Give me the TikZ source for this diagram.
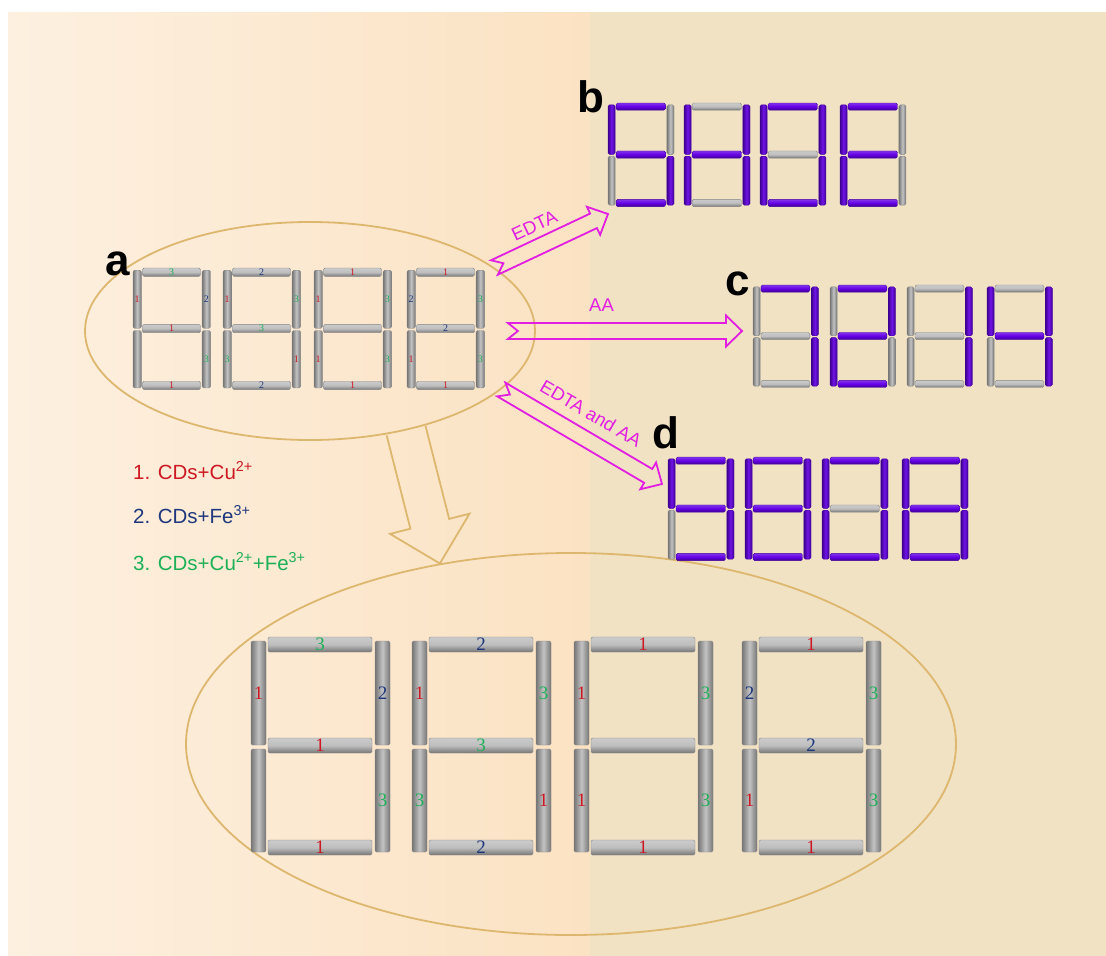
\documentclass[tikz,border=0pt]{standalone}
\usepackage{fontspec}
\setmainfont{Liberation Sans}
\newfontfamily\numfont{Liberation Serif}
\usetikzlibrary{calc,shapes.geometric}

\definecolor{bgL}{RGB}{253,240,224}
\definecolor{bgM}{RGB}{251,226,194}
\definecolor{bgR}{RGB}{241,226,196}
\definecolor{rim}{RGB}{222,183,110}
\definecolor{mag}{RGB}{226,30,226}
\definecolor{barlit}{RGB}{100,0,230}
\definecolor{bargray}{RGB}{190,190,190}
\definecolor{num1}{RGB}{206,24,34}
\definecolor{num2}{RGB}{30,55,125}
\definecolor{num3}{RGB}{30,176,86}

% segment number, nothing when empty
\newcommand{\segno}[1]{\ifx\relax#1\relax\else\textcolor{num#1}{#1}\fi}

% seven bars: top, upper right, lower right, bottom, lower left, upper left, middle
\newcommand{\segbars}[7]{%
  \draw[#1,hbar] (17,0) rectangle (121,15);
  \draw[#2,vbar] (124,4) rectangle (139,108);
  \draw[#3,vbar] (124,112) rectangle (139,215);
  \draw[#4,hbar] (17,203) rectangle (121,218);
  \draw[#5,vbar] (0,112) rectangle (15,215);
  \draw[#6,vbar] (0,4) rectangle (15,108);
  \draw[#7,hbar] (17,101) rectangle (121,116);}

% angle and length from #1 to #2, kept in \arrang and \arrlen
\newcommand{\arrowframe}[2]{%
  \path let \p1=($(#2)-(#1)$) in \pgfextra{%
    \pgfmathsetmacro\arrang{atan2(\y1,\x1)}\global\let\arrang\arrang
    \pgfmathsetmacro\arrlen{veclen(\x1,\y1)}\global\let\arrlen\arrlen};}

% outlined arrow with a swallow tail
\newcommand{\tailarrow}[2]{%
  \arrowframe{#1}{#2}
  \begin{scope}[shift={(#1)}, rotate=\arrang]
    \draw[magline] (0,8) -- (\arrlen-16,8) -- (\arrlen-16,15.5) -- (\arrlen,0)
      -- (\arrlen-16,-15.5) -- (\arrlen-16,-8) -- (0,-8) -- (10,0) -- cycle;
  \end{scope}}

% outlined arrow, open at the tail
\newcommand{\openarrow}[2]{%
  \arrowframe{#1}{#2}
  \begin{scope}[shift={(#1)}, rotate=\arrang]
    \draw[rimline] (0,20) -- (\arrlen-41,20) -- (\arrlen-41,41) -- (\arrlen,0)
      -- (\arrlen-41,-41) -- (\arrlen-41,-20) -- (0,-20);
  \end{scope}}

\tikzset{
  lit/.code={\def\barcol{barlit}},
  unlit/.code={\def\barcol{bargray}},
  hbar/.style={draw=\barcol!70!black, line width=.4pt, rounded corners=1.5pt,
    top color=\barcol!80!white, bottom color=\barcol!62!black, middle color=\barcol},
  vbar/.style={draw=\barcol!70!black, line width=.4pt, rounded corners=1.5pt,
    left color=\barcol!62!black, right color=\barcol!62!black, middle color=\barcol!92!white},
  segnum/.style={inner sep=0pt, font=\numfont\fontsize{19}{19}\selectfont},
  smallnum/.style={segnum/.append style={font=\numfont\fontsize{10}{10}\selectfont}},
  pics/seg7/.style n args={7}{code={\segbars{#1}{#2}{#3}{#4}{#5}{#6}{#7}}},
  % grey bars with the number of each bar
  pics/numbered/.style n args={7}{code={
    \segbars{unlit}{unlit}{unlit}{unlit}{unlit}{unlit}{unlit}
    \node[segnum] (-a) at (69,7.5) {\segno{#1}};
    \node[segnum] (-b) at (131.5,56) {\segno{#2}};
    \node[segnum] (-c) at (131.5,163.5) {\segno{#3}};
    \node[segnum] (-d) at (69,210.5) {\segno{#4}};
    \node[segnum] (-e) at (7.5,163.5) {\segno{#5}};
    \node[segnum] (-f) at (7.5,56) {\segno{#6}};
    \node[segnum] (-g) at (69,108.5) {\segno{#7}};
  }},
}

\begin{document}
\begin{tikzpicture}[x=1pt, y=-1pt,
    ovalgroup/.style={ellipse, draw=rim, line width=1.8pt, inner sep=0pt},
    magline/.style={draw=mag, line width=1.8pt},
    rimline/.style={draw=rim, line width=1.8pt},
    arrowtext/.style={text=mag, inner sep=0pt, font=\fontsize{18.5}{18.5}\selectfont},
    panel/.style={anchor=base west, inner sep=0pt, font=\bfseries\fontsize{44}{44}\selectfont},
    legend/.style={anchor=base west, inner sep=0pt, font=\fontsize{20.5}{20.5}\selectfont}]
  \useasboundingbox (0,0) rectangle (1106,956);
  \fill[left color=bgL, right color=bgM] (8,12) rectangle (592,956);
  \fill[bgR] (590,12) rectangle (1106,956);

  \node[ovalgroup, minimum width=450pt, minimum height=218pt] (grpA) at (310,331) {};
  \node[ovalgroup, minimum width=770pt, minimum height=382pt] (grpBig) at (571,744) {};

  % reagents
  \coordinate (tailB) at (grpA.19);
  \coordinate (tipB) at (608,214);
  \coordinate (tailC) at ([xshift=-28pt]grpA.east);
  \coordinate (tipC) at (742,331);
  \coordinate (tailD) at (grpA.-17);
  \coordinate (tipD) at (662,484);
  \tailarrow{tailB}{tipB}
  \tailarrow{tailC}{tipC}
  \tailarrow{tailD}{tipD}
  \path (tailB) -- (tipB) node[arrowtext, pos=.43, sloped, above=14pt] (txtB) {EDTA};
  \path (tailC) -- (tipC) node[arrowtext, pos=.40, above=19.5pt] (txtC) {AA};
  \path (tailD) -- (tipD) node[arrowtext, pos=.48, sloped, above=18pt] (txtD) {EDTA and AA};

  % zoom into the big copy
  \coordinate (tailZ) at (grpA.-46);
  \coordinate (tipZ) at (grpBig.126);
  \openarrow{tailZ}{tipZ}

  % small gates
  \pic[scale=.558, smallnum] (sA1) at (133,268) {numbered={3}{2}{3}{1}{}{1}{1}};
  \pic[scale=.558, smallnum] (sA2) at (223,268) {numbered={2}{3}{1}{2}{3}{1}{3}};
  \pic[scale=.558, smallnum] (sA3) at (314,268) {numbered={1}{3}{3}{1}{1}{1}{}};
  \pic[scale=.558, smallnum] (sA4) at (407,268) {numbered={1}{3}{3}{1}{1}{2}{2}};

  % big gates
  \pic (bA1) at (251,637) {numbered={3}{2}{3}{1}{}{1}{1}};
  \pic (bA2) at (412,637) {numbered={2}{3}{1}{2}{3}{1}{3}};
  \pic (bA3) at (574,637) {numbered={1}{3}{3}{1}{1}{1}{}};
  \pic (bA4) at (742,637) {numbered={1}{3}{3}{1}{1}{2}{2}};

  % EDTA
  \pic[scale=.475] (dB1) at (608,103) {seg7={lit}{unlit}{lit}{lit}{unlit}{lit}{lit}};
  \pic[scale=.475] (dB2) at (684,103) {seg7={unlit}{lit}{lit}{unlit}{lit}{lit}{lit}};
  \pic[scale=.475] (dB3) at (760,103) {seg7={lit}{lit}{lit}{lit}{lit}{lit}{unlit}};
  \pic[scale=.475] (dB4) at (840,103) {seg7={lit}{unlit}{unlit}{lit}{lit}{lit}{lit}};

  % AA
  \pic[scale=.47] (dC1) at (753,285) {seg7={lit}{lit}{lit}{unlit}{unlit}{unlit}{unlit}};
  \pic[scale=.47] (dC2) at (830,285) {seg7={lit}{lit}{unlit}{lit}{lit}{unlit}{lit}};
  \pic[scale=.47] (dC3) at (907,285) {seg7={unlit}{lit}{lit}{unlit}{unlit}{unlit}{unlit}};
  \pic[scale=.47] (dC4) at (987,285) {seg7={unlit}{lit}{lit}{unlit}{unlit}{lit}{lit}};

  % EDTA and AA
  \pic[scale=.475] (dD1) at (668,457) {seg7={lit}{lit}{lit}{lit}{unlit}{lit}{lit}};
  \pic[scale=.475] (dD2) at (745,457) {seg7={lit}{lit}{lit}{lit}{lit}{lit}{lit}};
  \pic[scale=.475] (dD3) at (822,457) {seg7={lit}{lit}{lit}{lit}{lit}{lit}{unlit}};
  \pic[scale=.475] (dD4) at (902,457) {seg7={lit}{lit}{lit}{lit}{lit}{lit}{lit}};

  \node[panel] (labA) at (105.5,275) {a};
  \node[panel] (labB) at (577,112) {b};
  \node[panel] (labC) at (725,295) {c};
  \node[panel] (labD) at (652,448) {d};

  \node[legend, text=num1] (leg1) at (133,479) {1. CDs+Cu\textsuperscript{2+}};
  \node[legend, text=num2] (leg2) at (133,523) {2. CDs+Fe\textsuperscript{3+}};
  \node[legend, text=num3] (leg3) at (133,570) {3. CDs+Cu\textsuperscript{2+}+Fe\textsuperscript{3+}};
\end{tikzpicture}
\end{document}
